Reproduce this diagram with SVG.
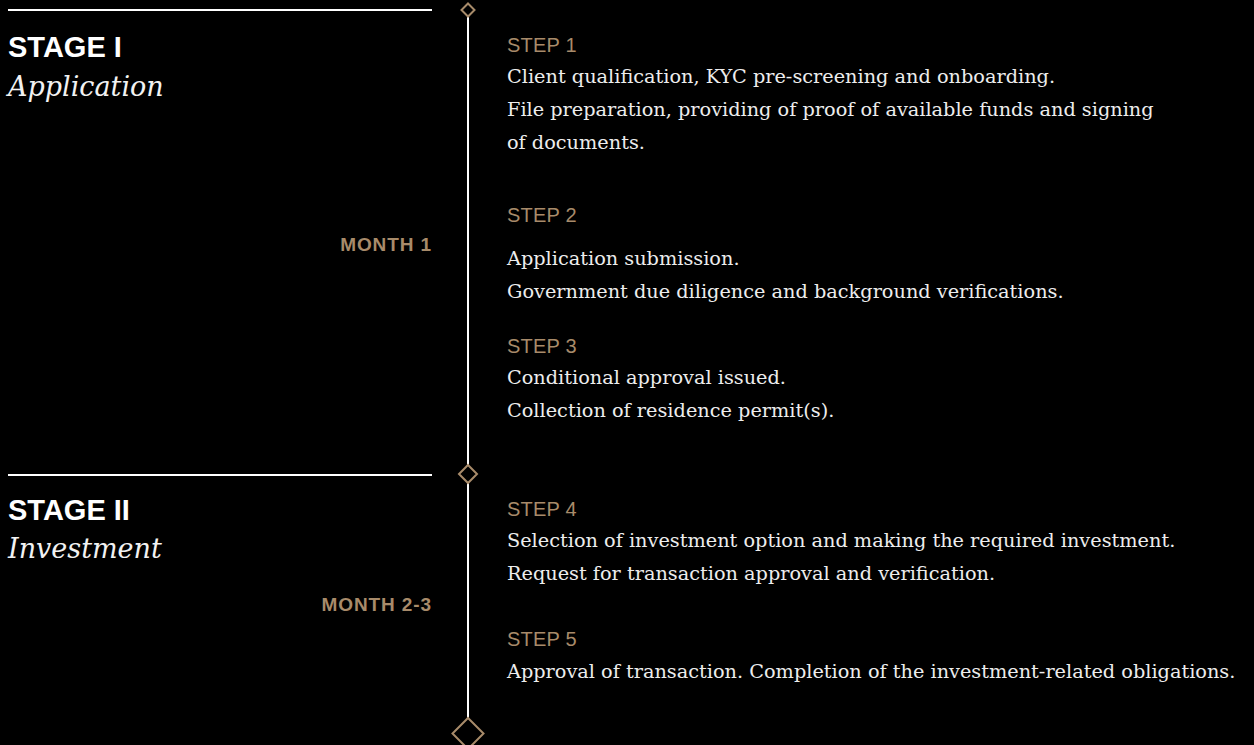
<svg xmlns="http://www.w3.org/2000/svg" width="1254" height="745" viewBox="0 0 1254 745">
  <defs>
    <style>
      .stage { font-family: "Liberation Sans", Arial, sans-serif; font-weight: bold; font-size: 29px; fill: #ffffff; }
      .phase { font-family: "DejaVu Serif", "Liberation Serif", serif; font-style: italic; font-size: 27px; fill: #f2f2f2; }
      .month { font-family: "Liberation Sans", Arial, sans-serif; font-weight: bold; font-size: 19px; fill: #a88b6a; text-anchor: end; letter-spacing: 0.9px; }
      .step { font-family: "Liberation Sans", Arial, sans-serif; font-size: 20px; fill: #a88b6a; letter-spacing: 0.2px; }
      .body { font-family: "DejaVu Serif", "Liberation Serif", serif; font-size: 19.3px; fill: #ededed; }
      .rule { stroke: #ffffff; stroke-width: 2; fill: none; }
      .marker { fill: #000000; stroke: #a88b6a; stroke-width: 2; }
    </style>
  </defs>
  <rect x="0" y="0" width="1254" height="745" fill="#000000"/>

  <!-- timeline spine and stage markers -->
  <g id="connectors">
    <line class="rule" x1="8" y1="10" x2="432" y2="10"/>
    <line class="rule" x1="8" y1="475" x2="432" y2="475"/>
    <line class="rule" x1="468" y1="16" x2="468" y2="718"/>
    <path class="marker" d="M468 3.5 L474.5 10 L468 16.5 L461.5 10 Z"/>
    <path class="marker" d="M468 465 L477 474 L468 483 L459 474 Z"/>
    <path class="marker" d="M468 718 L483.5 733.5 L468 749 L452.5 733.5 Z"/>
  </g>

  <g id="stage-1">
    <text class="stage" x="8" y="57">STAGE I</text>
    <text class="phase" x="8" y="96">Application</text>
    <text class="month" x="432" y="251">MONTH 1</text>
  </g>

  <g id="stage-2">
    <text class="stage" x="8" y="520">STAGE II</text>
    <text class="phase" x="8" y="558">Investment</text>
    <text class="month" x="432" y="611">MONTH 2-3</text>
  </g>

  <g id="step-1">
    <text class="step" x="507" y="52">STEP 1</text>
    <text class="body" x="507" y="83">Client qualification, KYC pre-screening and onboarding.</text>
    <text class="body" x="507" y="116">File preparation, providing of proof of available funds and signing</text>
    <text class="body" x="507" y="149">of documents.</text>
  </g>

  <g id="step-2">
    <text class="step" x="507" y="222">STEP 2</text>
    <text class="body" x="507" y="265">Application submission.</text>
    <text class="body" x="507" y="298">Government due diligence and background verifications.</text>
  </g>

  <g id="step-3">
    <text class="step" x="507" y="353">STEP 3</text>
    <text class="body" x="507" y="384">Conditional approval issued.</text>
    <text class="body" x="507" y="417">Collection of residence permit(s).</text>
  </g>

  <g id="step-4">
    <text class="step" x="507" y="516">STEP 4</text>
    <text class="body" x="507" y="547">Selection of investment option and making the required investment.</text>
    <text class="body" x="507" y="580">Request for transaction approval and verification.</text>
  </g>

  <g id="step-5">
    <text class="step" x="507" y="646">STEP 5</text>
    <text class="body" x="507" y="678">Approval of transaction. Completion of the investment-related obligations.</text>
  </g>
</svg>
